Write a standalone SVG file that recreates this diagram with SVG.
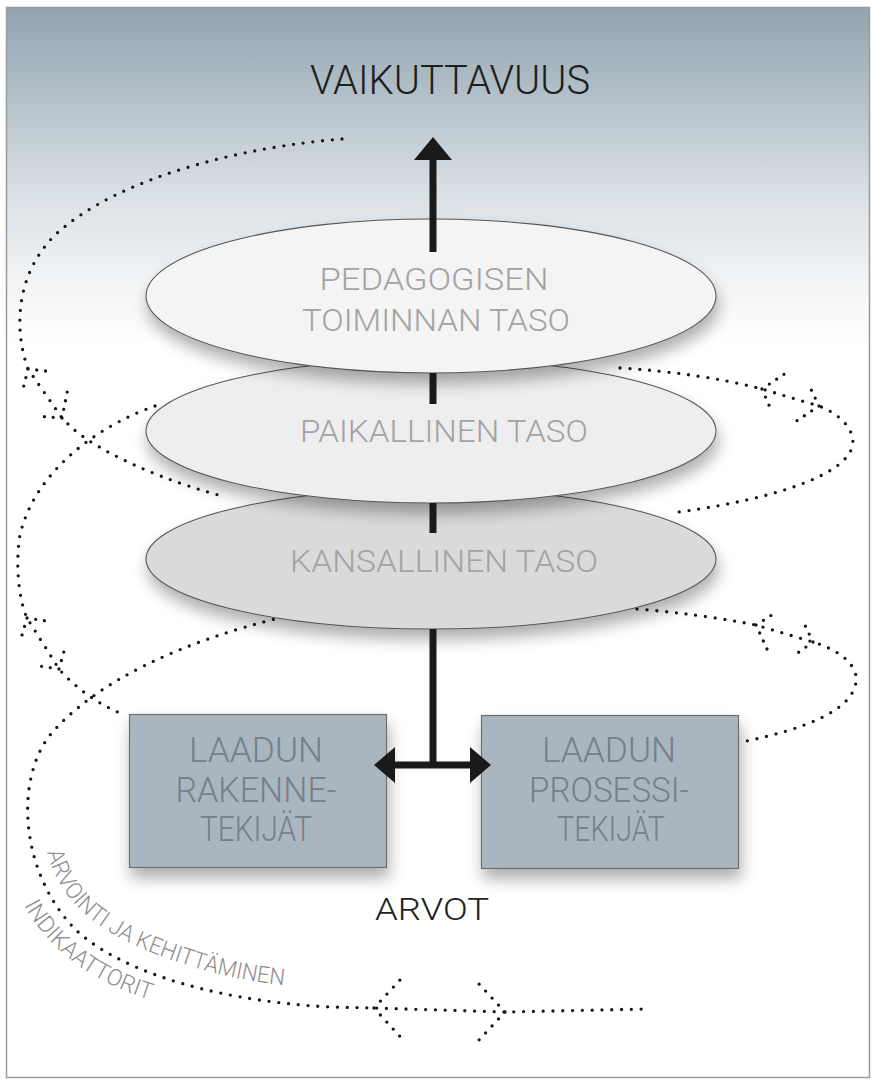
<svg xmlns="http://www.w3.org/2000/svg" width="877" height="1088" viewBox="0 0 877 1088">
<style>
.dot{fill:none;stroke:#151515;stroke-width:3.3;stroke-linecap:round;stroke-dasharray:0 9.8}
.chev{fill:none;stroke:#151515;stroke-width:3.3;stroke-linecap:round;stroke-dasharray:0 8.8}
.chevL{fill:none;stroke:#151515;stroke-width:3.3;stroke-linecap:round;stroke-dasharray:0 9.5}
.lvl{stroke:#555;stroke-width:1.1}
.box{fill:#aab6bf;stroke:#6c6c6c;stroke-width:1.2}
.t{font-family:Roboto,"Liberation Sans",sans-serif;font-weight:300;text-anchor:middle}
.et{font-size:31px;fill:#a3a3a3}
.bt{font-size:35px;fill:#74808a}
.shaft{stroke:#1a1a1a;stroke-width:7;fill:none}
.head{fill:#1a1a1a}
.curv{font-family:Roboto,"Liberation Sans",sans-serif;font-weight:300;font-size:23px;fill:#8e8e8e}
</style>
<defs>
<linearGradient id="bg" gradientUnits="userSpaceOnUse" x1="0" y1="7" x2="0" y2="345">
<stop offset="0" stop-color="#92a3af"/>
<stop offset="0.28" stop-color="#b5c2cb"/>
<stop offset="0.55" stop-color="#d9e0e5"/>
<stop offset="0.8" stop-color="#f1f3f5"/>
<stop offset="1" stop-color="#ffffff"/>
</linearGradient>
<filter id="sh" x="-20%" y="-30%" width="140%" height="170%">
<feGaussianBlur in="SourceAlpha" stdDeviation="8"/>
<feOffset dx="2" dy="10" result="b"/>
<feComponentTransfer><feFuncA type="linear" slope="0.32"/></feComponentTransfer>
<feMerge><feMergeNode/><feMergeNode in="SourceGraphic"/></feMerge>
</filter>
<path id="tp1" d="M47,852 C59,897 89,924 136,946 C181,965 233,982 303,987"/>
<path id="tp2" d="M24,905 C38,933 73,968 110,984 C128,993 148,1000 173,1006"/>
</defs>

<rect x="6.5" y="7.5" width="863" height="1070" fill="url(#bg)" stroke="#9a9a9a" stroke-width="1.5"/>

<g id="spiral">
<path class="dot" d="M342,139 C250,146 120,175 55,235 C15,275 14,330 28,369 L62,418 C75,432 88,441 110,453 C140,469 180,485 226,497"/>
<path class="dot" d="M155,406 C100,425 35,470 20,535 C15,565 19,600 27,618 L59,669 C70,682 95,704 125,715"/>
<path class="dot" d="M283,617 C180,642 95,682 50,735 C15,780 20,870 73,927 C110,965 200,1000 330,1007 L374,1008 L505,1012 L646,1009"/>
<path class="dot" d="M620,368 Q700,373 762,389 L819,406 C850,418 858,440 850,452 C838,475 780,498 679,512"/>
<path class="dot" d="M637,609 Q700,614 756,625 L813,642 C845,652 858,668 856,682 C852,712 800,730 742,742"/>
<path class="chev" d="M28,369 L54.2,372 M28,369 L21.6,394.6 M62,418 L67.2,392.1 M62,418 L35.7,416"/>
<path class="chev" d="M27,618 L53,622 M27,618 L19.6,643.3 M59,669 L66.1,643.6 M59,669 L33,665"/>
<path class="chev" d="M762,389 L784,374.3 M762,389 L772.5,413.2 M819,406 L807.6,382.2 M819,406 L797,420.6"/>
<path class="chev" d="M756,625 L778,611 M756,625 L767,649 M813,642 L801.6,618.2 M813,642 L792,657"/>
<path class="chevL" d="M374,1008 L400,980 M374,1008 L400,1036.5 M505,1012 L479,984 M505,1012 L479,1040"/>
</g>

<g id="label-arviointi">
<text class="curv"><textPath href="#tp1" textLength="288" lengthAdjust="spacingAndGlyphs">ARVOINTI JA KEHITTÄMINEN</textPath></text>
<text class="curv"><textPath href="#tp2" textLength="162" lengthAdjust="spacingAndGlyphs">INDIKAATTORIT</textPath></text>
</g>

<g id="title">
<text class="t" x="450" y="94" font-size="41" fill="#1e1e1e" textLength="280" lengthAdjust="spacingAndGlyphs">VAIKUTTAVUUS</text>
</g>

<g id="level-kansallinen">
<ellipse class="lvl" cx="431" cy="559" rx="285" ry="70" fill="#dadada" filter="url(#sh)"/>
<text class="t et" x="444" y="572" fill="#9c9c9c" textLength="308" lengthAdjust="spacingAndGlyphs">KANSALLINEN TASO</text>
</g>

<g id="level-paikallinen">
<ellipse class="lvl" cx="431" cy="431" rx="285" ry="72" fill="#eeeeee" filter="url(#sh)"/>
<text class="t et" x="444" y="442" textLength="288" lengthAdjust="spacingAndGlyphs">PAIKALLINEN TASO</text>
</g>

<g id="level-pedagoginen">
<ellipse class="lvl" cx="431" cy="296" rx="285" ry="77" fill="#f4f4f4" filter="url(#sh)"/>
<text class="t et" x="434" y="290" textLength="229" lengthAdjust="spacingAndGlyphs">PEDAGOGISEN</text>
<text class="t et" x="436" y="331" textLength="268" lengthAdjust="spacingAndGlyphs">TOIMINNAN TASO</text>
</g>

<g id="box-rakenne">
<rect class="box" x="129.5" y="714.5" width="257" height="153" filter="url(#sh)"/>
<text class="t bt" x="256" y="762" textLength="134" lengthAdjust="spacingAndGlyphs">LAADUN</text>
<text class="t bt" x="256" y="802" textLength="161" lengthAdjust="spacingAndGlyphs">RAKENNE-</text>
<text class="t bt" x="256" y="841" textLength="112" lengthAdjust="spacingAndGlyphs">TEKIJÄT</text>
</g>

<g id="box-prosessi">
<rect class="box" x="481.5" y="715.5" width="257" height="153" filter="url(#sh)"/>
<text class="t bt" x="609" y="762" textLength="134" lengthAdjust="spacingAndGlyphs">LAADUN</text>
<text class="t bt" x="609" y="802" textLength="160" lengthAdjust="spacingAndGlyphs">PROSESSI-</text>
<text class="t bt" x="611" y="841" textLength="108" lengthAdjust="spacingAndGlyphs">TEKIJÄT</text>
</g>

<g id="arvot">
<text class="t" x="432" y="920" font-size="32" fill="#222" textLength="114" lengthAdjust="spacingAndGlyphs">ARVOT</text>
</g>

<g id="connectors">
<line class="shaft" x1="433" y1="158" x2="433" y2="252"/>
<polygon class="head" points="433,137 414,160 452,160"/>
<line class="shaft" x1="433" y1="373" x2="433" y2="404"/>
<line class="shaft" x1="433" y1="503" x2="433" y2="533"/>
<line class="shaft" x1="433" y1="629" x2="433" y2="765"/>
<line class="shaft" x1="390" y1="765" x2="475" y2="765"/>
<polygon class="head" points="374,765 395,747 395,783"/>
<polygon class="head" points="491,765 470,747 470,783"/>
</g>
</svg>
